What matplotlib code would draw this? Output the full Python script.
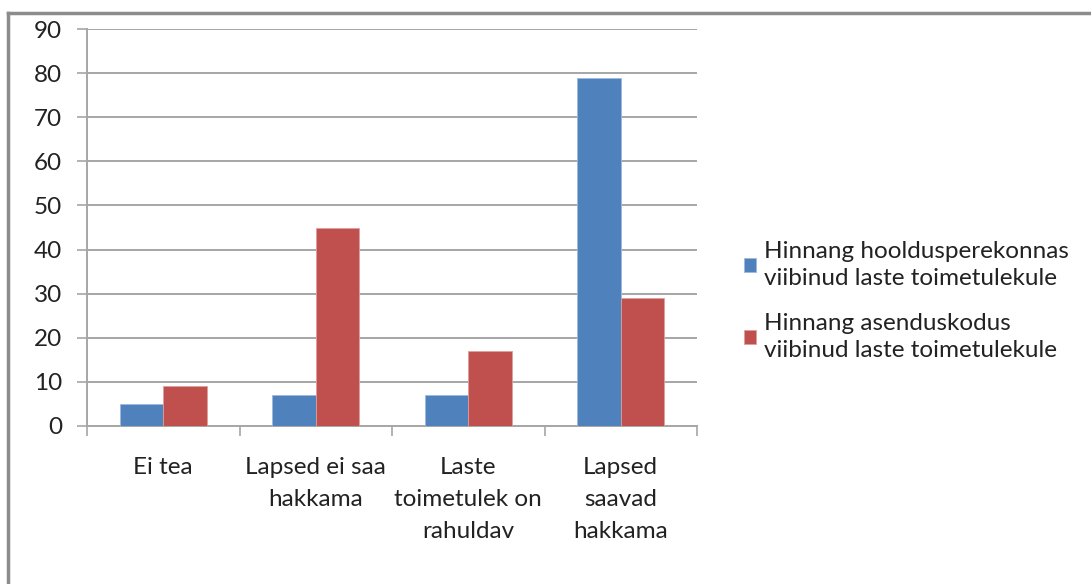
import numpy as np
from matplotlib import pyplot as plt
from matplotlib.lines import Line2D

categories = ["Ei tea", "Lapsed ei saa\nhakkama", "Laste\ntoimetulek on\nrahuldav", "Lapsed\nsaavad\nhakkama"]
series_names = ["Hinnang hooldusperekonnas\nviibinud laste toimetulekule",
                "Hinnang asenduskodus\nviibinud laste toimetulekule"]
foster = [5, 7, 7, 79]
institution = [9, 45, 17, 29]
colors = ["#4F81BD", "#C0504D"]

plt.rcParams['font.family'] = ['Lato', 'DejaVu Sans']
fs = 17.5

fig = plt.figure(figsize=(10.91, 5.84), dpi=100)
ax = fig.add_axes([87/1091, 158/584, 610/1091, 397/584])

x = np.arange(len(categories))
w = 1 / 3.5
ax.bar(x - w/2, foster, w, color=colors[0], edgecolor="#9DB9DE", linewidth=0.6, label=series_names[0], zorder=3)
ax.bar(x + w/2, institution, w, color=colors[1], edgecolor="#DE9E9C", linewidth=0.6, label=series_names[1], zorder=3)

ax.set_xlim(-0.5, len(categories) - 0.5)
ax.set_ylim(0, 90)
ax.set_yticks(range(0, 91, 10))
ax.yaxis.grid(True, color="#A6A6A6", linewidth=1.4, zorder=0)

ax.set_xticks(np.arange(len(categories) + 1) - 0.5)
ax.set_xticklabels([])
ax.set_xticks(x, minor=True)
ax.set_xticklabels(categories, minor=True, fontsize=fs, color="#222222", linespacing=1.65, va="top")
ax.tick_params(axis="x", which="major", length=7, width=1.2, color="#A6A6A6", direction="out")
ax.tick_params(axis="x", which="minor", length=0, pad=22)
ax.tick_params(axis="y", length=7, width=1.2, color="#A6A6A6", labelsize=fs, labelcolor="#222222", pad=11)

for s in ["top", "right"]:
    ax.spines[s].set_visible(False)
for s in ["left", "bottom"]:
    ax.spines[s].set_color("#A6A6A6")
    ax.spines[s].set_linewidth(1.4)

leg = fig.legend(loc="center left", bbox_to_anchor=(732/1091, 1 - 301/584), frameon=False,
                 fontsize=fs, handlelength=0.5, handleheight=0.5, handletextpad=0.3,
                 labelspacing=0.95, borderpad=0)
for t in leg.get_texts():
    t.set_linespacing(1.38)
    t.set_color("#222222")

# outer chart border (cut off at right and bottom)
fig.add_artist(Line2D([8/1091, 1], [1 - 13/584, 1 - 13/584], color="#8C8C8C", linewidth=2.5))
fig.add_artist(Line2D([8/1091, 8/1091], [0, 1 - 13/584], color="#8C8C8C", linewidth=2.5))

fig.savefig("out.png", dpi=100)
